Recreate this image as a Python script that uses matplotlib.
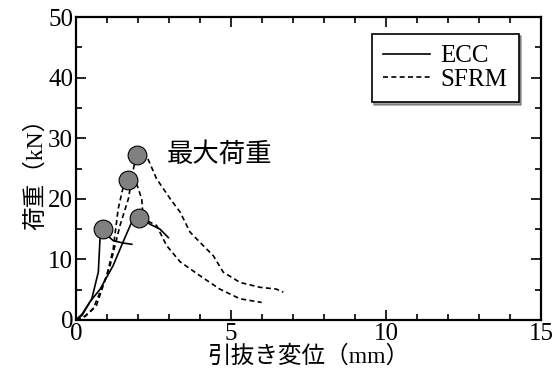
import matplotlib
matplotlib.use("Agg")
import matplotlib.pyplot as plt
from matplotlib.ticker import MultipleLocator

plt.rcParams["font.family"] = ["Liberation Serif", "Noto Sans CJK JP"]

# ECC specimens (solid)
ecc1_x = [0, 0.2, 0.51, 0.72, 0.78, 0.85, 1.0, 1.2, 1.52, 1.8]
ecc1_y = [0, 0.8, 3.5, 7.9, 13.9, 14.8, 14.0, 13.1, 12.7, 12.5]
ecc2_x = [0, 0.2, 0.45, 0.78, 1.2, 1.52, 1.8, 2.03, 2.39, 2.71, 2.98]
ecc2_y = [0, 1.0, 3.0, 5.1, 9.0, 12.9, 16.2, 16.9, 15.8, 15.0, 13.6]

# SFRM specimens (dashed)
sfrm1_x = [0, 0.3, 0.55, 0.99, 1.2, 1.36, 1.52, 1.7, 1.9, 2.12, 2.17,
           2.6, 2.92, 3.36, 4.0, 4.64, 5.29, 5.99]
sfrm1_y = [0, 0.6, 1.8, 7.3, 11.7, 18.3, 21.9, 23.0, 23.3, 20.0, 16.7,
           15.6, 12.3, 9.6, 7.3, 5.1, 3.5, 2.9]
sfrm2_x = [0, 0.3, 0.66, 1.1, 1.42, 1.69, 1.8, 1.9, 1.96, 2.32, 2.6,
           3.04, 3.36, 3.68, 4.1, 4.43, 4.75, 5.29, 5.93, 6.46, 6.69]
sfrm2_y = [0, 0.7, 2.4, 9.0, 15.6, 20.0, 23.3, 26.3, 27.0, 26.6, 23.3,
           20.0, 17.8, 14.5, 12.3, 10.6, 7.9, 6.2, 5.4, 5.1, 4.6]

# maximum load points
peak_x = [0.86, 1.69, 1.96, 2.03]
peak_y = [15.1, 23.1, 27.2, 16.9]


def main():
    fig = plt.figure(figsize=(5.6, 3.83), dpi=100)
    ax = fig.add_axes([0.1357, 0.1645, 0.8303, 0.791])

    ax.plot(ecc1_x, ecc1_y, color="black", lw=1.2, label="ECC")
    ax.plot(ecc2_x, ecc2_y, color="black", lw=1.2)
    ax.plot(sfrm1_x, sfrm1_y, color="black", lw=1.2, ls=(0, (3, 2)),
            label="SFRM")
    ax.plot(sfrm2_x, sfrm2_y, color="black", lw=1.2, ls=(0, (3, 2)))
    ax.plot(peak_x, peak_y, "o", ms=13.5, mfc="#808080", mec="black",
            mew=0.8, zorder=5)

    ax.text(2.94, 27.3, "最大荷重", fontsize=19, va="center",
            family=["Noto Sans CJK JP"])

    ax.set_xlim(0, 15)
    ax.set_ylim(0, 50)
    ax.xaxis.set_major_locator(MultipleLocator(5))
    ax.xaxis.set_minor_locator(MultipleLocator(1))
    ax.yaxis.set_major_locator(MultipleLocator(10))
    ax.yaxis.set_minor_locator(MultipleLocator(5))
    ax.tick_params(which="both", direction="in", top=True, right=True,
                   labelsize=18, width=1.2)
    ax.tick_params(which="major", length=7, pad=2)
    ax.tick_params(which="minor", length=4)
    for s in ax.spines.values():
        s.set_linewidth(1.6)

    ax.set_xlabel("引抜き変位（mm）", fontsize=17, labelpad=0)
    ax.set_ylabel("荷重（kN）", fontsize=17, labelpad=1)

    leg = ax.legend(loc="upper right", fontsize=18, frameon=True,
                    fancybox=False, shadow=True, handlelength=1.9,
                    borderpad=0.45, labelspacing=0.05, handletextpad=0.4,
                    bbox_to_anchor=(0.952, 0.945), borderaxespad=0)
    leg.get_frame().set_edgecolor("black")
    leg.get_frame().set_linewidth(1.2)

    fig.savefig("out.png", dpi=100)


if __name__ == "__main__":
    main()
